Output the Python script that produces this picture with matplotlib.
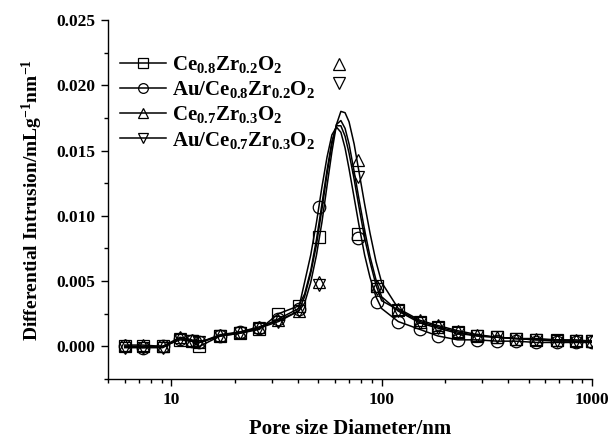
import numpy as np
import matplotlib
matplotlib.use("Agg")
import matplotlib.pyplot as plt
from matplotlib.ticker import MultipleLocator, LogLocator, FixedLocator, NullFormatter

plt.rcParams['font.family'] = 'Liberation Serif'
plt.rcParams['font.weight'] = 'bold'
plt.rcParams['mathtext.fontset'] = 'custom'
plt.rcParams['mathtext.rm'] = 'Liberation Serif:bold'
plt.rcParams['mathtext.it'] = 'Liberation Serif:bold'
plt.rcParams['mathtext.bf'] = 'Liberation Serif:bold'

# measured points (nm)
pore_left = [6.0, 7.3, 9.1, 11.0, 12.5, 13.6, 17.1, 21.1, 26.2, 32.3, 40.3, 50.1]
pore_peak = [62.4]
pore_right = [77, 95, 120, 152, 185, 230, 285, 355, 435, 545, 680, 840, 1000]

sq_left = [0.0000, 0.0000, 0.0000, 0.0005, 0.0004, 0.0000, 0.0008, 0.0010, 0.0013, 0.0025, 0.0031, 0.0084]
ci_left = [0.0000, -0.0001, 0.0000, 0.0006, 0.0004, 0.0003, 0.0008, 0.0011, 0.0014, 0.0021, 0.0029, 0.0107]
up_left = [0.0001, 0.0001, 0.0000, 0.0007, 0.0005, 0.0003, 0.0009, 0.0011, 0.0015, 0.0020, 0.0027, 0.0049]
dn_left = [-0.0001, -0.0001, -0.0001, 0.0006, 0.0004, 0.0003, 0.0008, 0.0010, 0.0014, 0.0019, 0.0027, 0.0047]

up_peak = [0.0216]
dn_peak = [0.0202]

sq_right = [0.0086, 0.0046, 0.0028, 0.0019, 0.0015, 0.0011, 0.0008, 0.0007, 0.0006, 0.0005, 0.0005, 0.0004, 0.0004]
ci_right = [0.0083, 0.0034, 0.0019, 0.0013, 0.0008, 0.0005, 0.0005, 0.0004, 0.0004, 0.0003, 0.0003, 0.0003, 0.0003]
up_right = [0.0143, 0.0046, 0.0029, 0.0020, 0.0016, 0.0012, 0.0009, 0.0007, 0.0006, 0.0006, 0.0005, 0.0005, 0.0004]
dn_right = [0.0130, 0.0044, 0.0027, 0.0018, 0.0014, 0.0010, 0.0008, 0.0007, 0.0006, 0.0005, 0.0004, 0.0004, 0.0004]

# fitted peak curves
fit_pore = [43, 46, 49, 52, 55, 58, 61, 64, 67, 70, 74, 78, 83, 88, 94, 100]
sq_fit = [0.0040, 0.0058, 0.0082, 0.0109, 0.0135, 0.0157, 0.0169, 0.0169, 0.0161, 0.0148, 0.0128, 0.0107, 0.0083, 0.0065, 0.0047, 0.0035]
ci_fit = [0.0049, 0.0070, 0.0095, 0.0122, 0.0145, 0.0162, 0.0168, 0.0164, 0.0152, 0.0136, 0.0114, 0.0093, 0.0070, 0.0053, 0.0038, 0.0029]
up_fit = [0.0033, 0.0049, 0.0070, 0.0095, 0.0123, 0.0149, 0.0170, 0.0180, 0.0179, 0.0172, 0.0155, 0.0134, 0.0109, 0.0087, 0.0065, 0.0049]
dn_fit = [0.0038, 0.0056, 0.0078, 0.0105, 0.0132, 0.0155, 0.0170, 0.0173, 0.0167, 0.0155, 0.0134, 0.0113, 0.0089, 0.0069, 0.0051, 0.0038]

labels = [r'$\mathrm{Ce_{0.8}Zr_{0.2}O_2}$',
          r'$\mathrm{Au/Ce_{0.8}Zr_{0.2}O_2}$',
          r'$\mathrm{Ce_{0.7}Zr_{0.3}O_2}$',
          r'$\mathrm{Au/Ce_{0.7}Zr_{0.3}O_2}$']

series = [
    ('s', sq_left, [], sq_right, sq_fit),
    ('o', ci_left, [], ci_right, ci_fit),
    ('^', up_left, up_peak, up_right, up_fit),
    ('v', dn_left, dn_peak, dn_right, dn_fit),
]

fig = plt.figure(figsize=(6.14, 4.4), dpi=100)
ax = fig.add_axes([0.176, 0.1386, 0.788, 0.8159])

for (mk, yl, yp, yr, yf), lab in zip(series, labels):
    # line: measured tails joined through the fitted peak
    lx = pore_left[:-1] + fit_pore + pore_right[2:]
    ly = yl[:-1] + yf + yr[2:]
    ax.plot(lx, ly, color='black', lw=1.1, zorder=2)
    mx = pore_left + pore_peak[:len(yp)] + pore_right
    my = yl + yp + yr
    ax.plot(mx, my, linestyle='none', marker=mk, ms=9, mfc='none',
            mec='black', mew=0.9, zorder=3)
    # legend proxy
    ax.plot([], [], color='black', lw=1.1, marker=mk, ms=7, mfc='none',
            mec='black', mew=0.9, label=lab)

ax.set_xscale('log')
ax.set_xlim(5, 1000)
ax.set_ylim(-0.0025, 0.025)

ax.xaxis.set_major_locator(FixedLocator([10, 100, 1000]))
ax.xaxis.set_minor_locator(LogLocator(base=10, subs=np.arange(2, 10)))
ax.xaxis.set_minor_formatter(NullFormatter())
ax.set_xticklabels(['10', '100', '1000'])

ax.yaxis.set_major_locator(FixedLocator([0.0, 0.005, 0.010, 0.015, 0.020, 0.025]))
ax.yaxis.set_minor_locator(MultipleLocator(0.0025))
ax.set_yticklabels(['0.000', '0.005', '0.010', '0.015', '0.020', '0.025'])

for s in ['top', 'right']:
    ax.spines[s].set_visible(False)
for s in ['left', 'bottom']:
    ax.spines[s].set_linewidth(1.0)

ax.tick_params(which='major', direction='out', length=5, width=1.0, labelsize=12.5, pad=4)
ax.tick_params(which='minor', direction='out', length=3, width=1.0)
for t in ax.get_xticklabels() + ax.get_yticklabels():
    t.set_fontweight('bold')

ax.set_xlabel('Pore size Diameter/nm', fontsize=15, fontweight='bold', labelpad=8)
ax.set_ylabel(r'Differential Intrusion/mLg$^{\mathbf{-1}}$nm$^{\mathbf{-1}}$',
              fontsize=14, fontweight='bold', labelpad=8)

ax.legend(loc='upper left', bbox_to_anchor=(0.025, 0.905), frameon=False,
          fontsize=15, handlelength=2.2, handletextpad=0.3,
          labelspacing=0.2, borderaxespad=0, borderpad=0)

fig.savefig('out.png', dpi=100)
